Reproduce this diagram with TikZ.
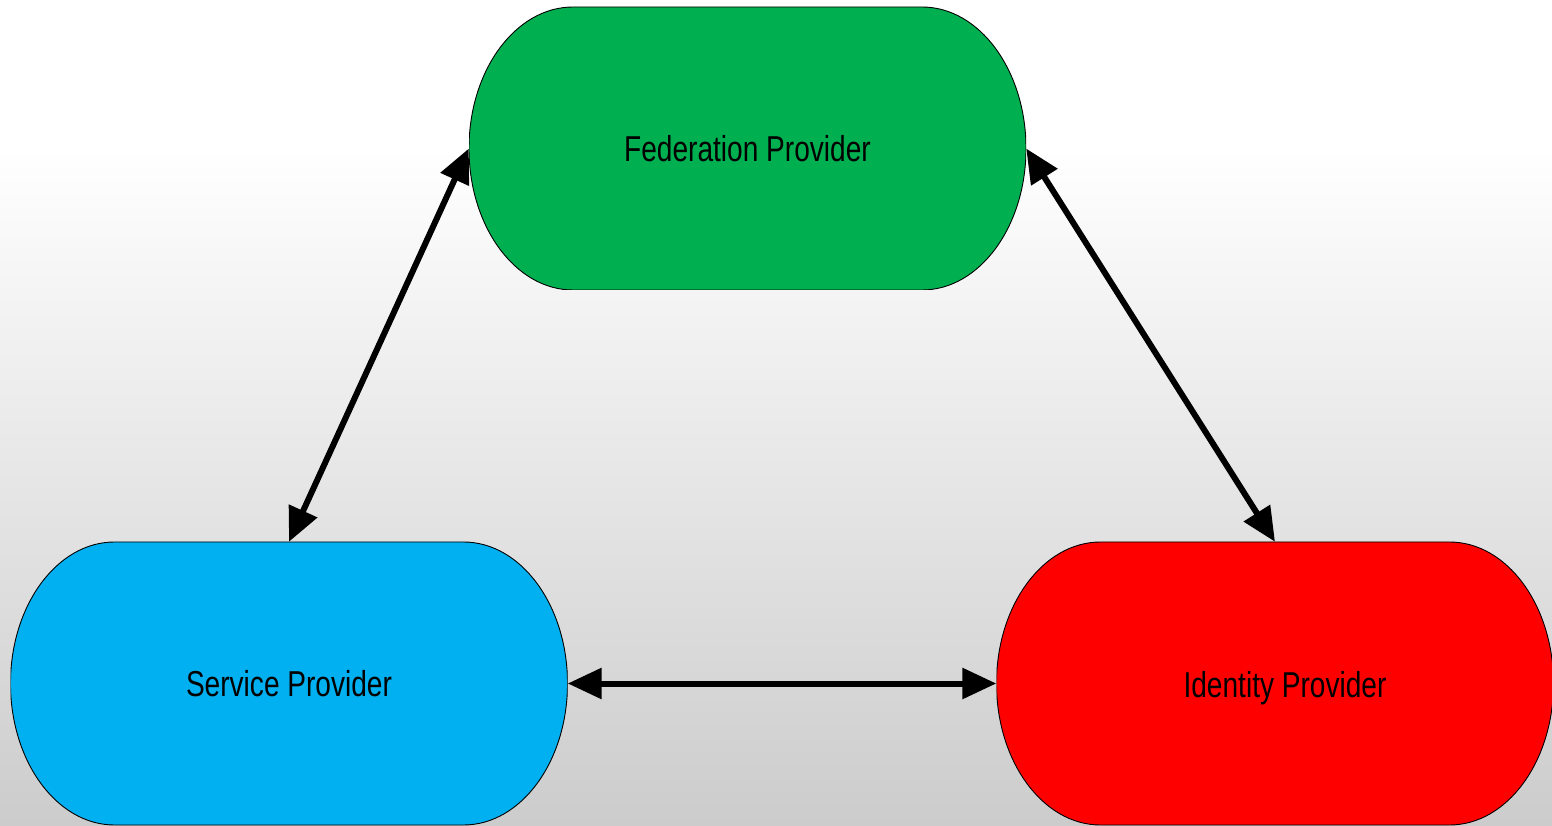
\documentclass[tikz,border=0pt]{standalone}
\usepackage{fontspec}
\newfontfamily\narrowsf[FakeStretch=0.78]{Liberation Sans}
\usetikzlibrary{arrows.meta}
\definecolor{fgreen}{RGB}{0, 176, 80}
\definecolor{sblue}{RGB}{0, 176, 240}
\definecolor{ired}{RGB}{255, 0, 0}
\pgfdeclareverticalshading{bgfade}{100bp}{color(0bp)=(gray!40); color(25bp)=(gray!40); color(66bp)=(white); color(100bp)=(white)}
\def\rx{104pt}
\def\ry{141.5pt}
\tikzset{
  provider/.style={rectangle, inner sep=0pt, minimum width=557pt, minimum height=283pt,
    font=\narrowsf\fontsize{36}{40}\selectfont,
    path picture={
      \filldraw[fill=#1, draw=black, line width=0.9pt]
        ([xshift=\rx]path picture bounding box.north west) -- ([xshift=-\rx]path picture bounding box.north east)
        arc[start angle=90, end angle=-90, x radius=\rx, y radius=\ry]
        -- ([xshift=\rx]path picture bounding box.south west)
        arc[start angle=270, end angle=90, x radius=\rx, y radius=\ry] -- cycle;
    }}
}
\tikzstyle{line} = [draw, line width=6pt, color=black, >={Triangle[length=34pt,width=30pt]}, <->]

\begin{document}
\begin{tikzpicture}
  \shade[shading=bgfade] (0pt,0pt) rectangle (1552pt,825pt);
  \useasboundingbox (0pt,0pt) rectangle (1552pt,825pt);

  \node [provider=fgreen] (fp) at (747.5pt,676.5pt) {Federation Provider};
  \node [provider=sblue] (sp) at (289pt,141.5pt) {Service Provider};
  \node [provider=ired] (idp) at (1275pt,141.5pt) {\hspace*{20pt}\rule{0pt}{36pt}Identity Provider};

  \path [line] (fp.west) -- (sp.north);
  \path [line] (fp.east) -- (idp.north);
  \path [line] (sp.east) -- (idp.west);
\end{tikzpicture}
\end{document}
